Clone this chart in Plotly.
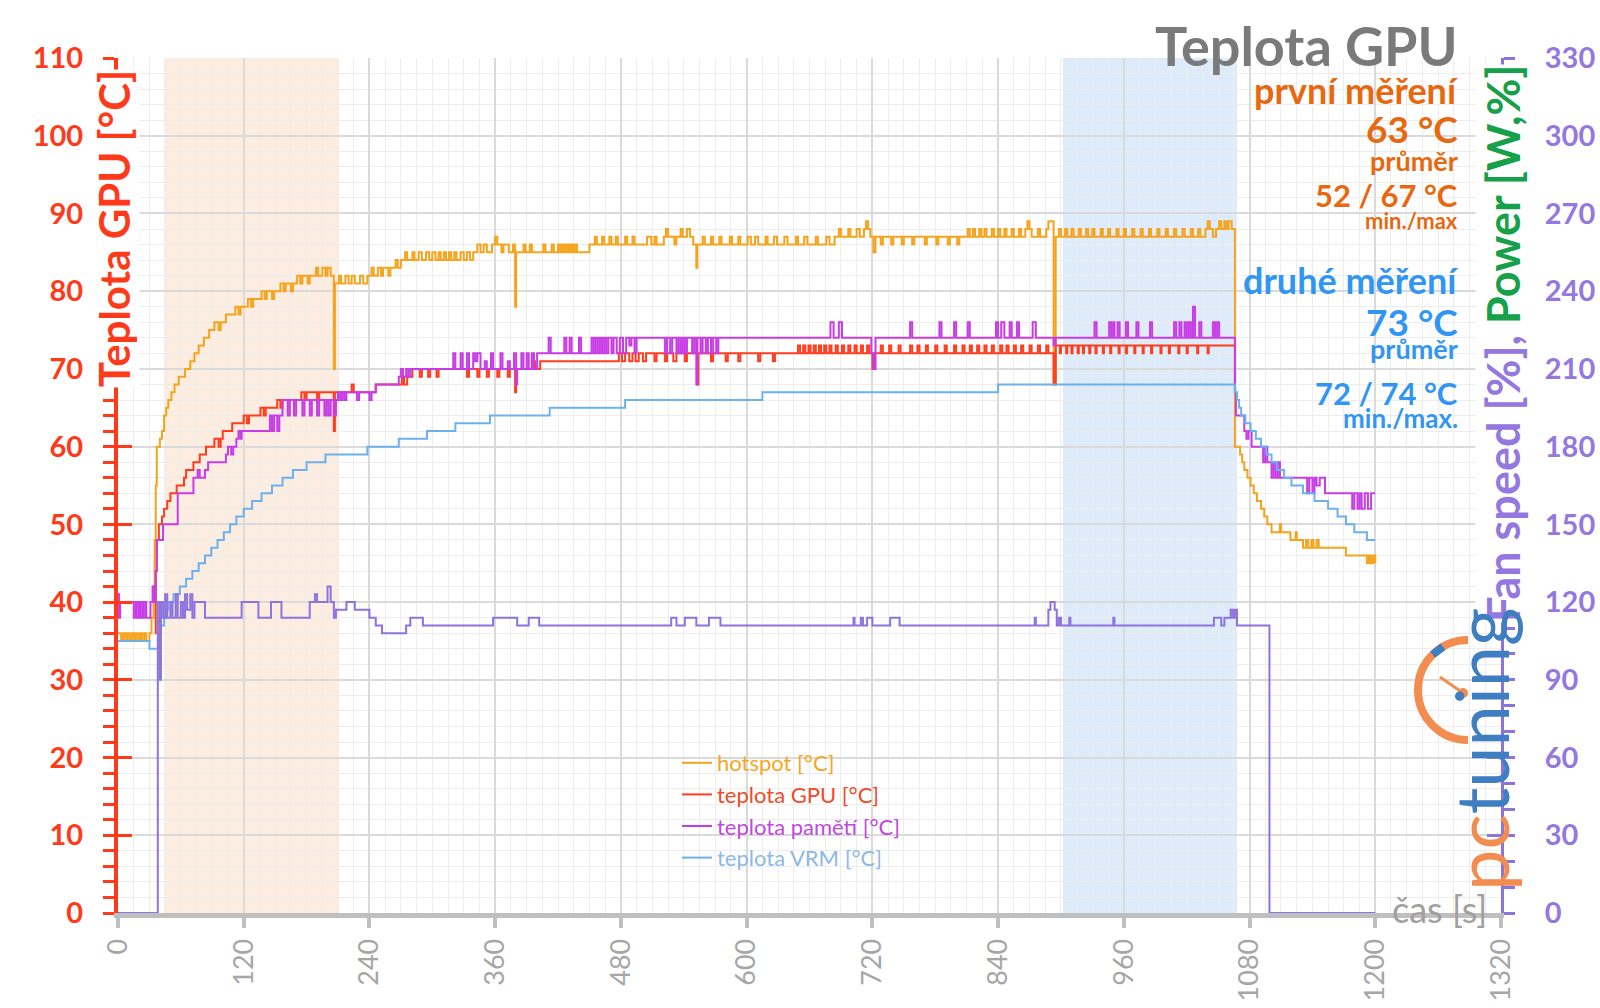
import plotly.graph_objects as go

# ---------------- data (time [s], value) change points, step-wise ----------------
hotspot_pts = [(0,36),(3,35),(5,36),(7,35),(9,36),(11,35),(13,36),(15,35),(17,36),(19,35),(21,36),(23,35),(25,36),(27,35),(30,36),(32,38),(34,42),(35,48),(36,55),(37,60),(40,61),(42,62),(44,64),(46,65),(48,66),(51,67),(54,68),(58,69),(64,70),(69,71),(73,72),(77,73),(82,74),(87,75),(92,76),(96,75),(98,76),(103,77),(112,78),(115,77),(117,78),(124,79),(127,78),(129,79),(137,80),(140,79),(142,80),(147,79),(149,80),(155,81),(158,80),(160,81),(165,80),(167,81),(171,82),(174,81),(176,82),(181,81),(183,82),(189,83),(191,82),(195,83),(198,82),(200,83),(203,82),(206,70),(207,81),(211,82),(213,81),(217,82),(220,81),(223,82),(226,81),(231,82),(234,81),(238,82),(242,83),(244,82),(248,83),(251,82),(253,83),(258,82),(260,83),(265,84),(267,83),(270,84),(274,85),(276,84),(281,85),(283,84),(287,85),(290,84),(294,85),(297,84),(300,85),(303,84),(306,85),(308,84),(311,85),(313,84),(316,85),(318,84),(321,85),(323,84),(327,85),(330,84),(333,85),(336,84),(339,85),(343,86),(346,85),(349,86),(352,85),(357,86),(360,87),(362,86),(366,85),(368,86),(373,85),(377,86),(379,78),(380,85),(387,86),(389,85),(393,86),(395,85),(406,86),(408,85),(414,86),(416,85),(420,86),(422,85),(424,86),(426,85),(428,86),(430,85),(432,86),(434,85),(436,86),(438,85),(450,86),(455,87),(457,86),(462,87),(464,86),(469,87),(471,86),(475,87),(477,86),(484,87),(486,86),(491,87),(493,86),(505,87),(509,86),(512,87),(514,86),(521,87),(523,88),(525,87),(531,86),(533,87),(537,88),(539,87),(543,88),(546,87),(549,86),(552,83),(553,86),(558,87),(560,86),(566,87),(568,86),(574,87),(576,86),(584,87),(586,86),(592,87),(594,86),(601,87),(604,86),(608,87),(611,86),(618,87),(620,86),(626,87),(629,86),(636,87),(639,86),(647,87),(649,86),(655,87),(658,86),(666,87),(668,86),(676,87),(679,86),(684,87),(688,88),(690,87),(697,88),(699,87),(705,88),(708,87),(712,88),(714,89),(716,88),(718,87),(721,85),(723,87),(728,86),(730,87),(738,86),(740,87),(748,86),(750,87),(758,86),(760,87),(770,86),(772,87),(781,86),(783,87),(792,86),(794,87),(801,86),(803,87),(811,88),(813,87),(816,88),(818,87),(822,88),(824,87),(827,88),(829,87),(834,88),(836,87),(840,88),(842,87),(846,88),(848,87),(853,88),(855,87),(860,88),(862,87),(866,88),(868,89),(870,88),(872,87),(878,88),(880,87),(886,88),(888,89),(893,68),(895,87),(898,88),(900,87),(904,88),(906,87),(910,88),(912,87),(917,88),(919,87),(924,88),(926,87),(930,88),(932,87),(938,88),(940,87),(945,88),(947,87),(953,88),(955,87),(960,88),(962,87),(968,88),(970,87),(976,88),(978,87),(984,88),(986,87),(992,88),(994,87),(1000,88),(1002,87),(1008,88),(1010,87),(1016,88),(1018,87),(1024,88),(1026,87),(1031,88),(1033,87),(1038,88),(1040,89),(1042,88),(1045,87),(1048,88),(1051,89),(1053,88),(1056,89),(1058,88),(1060,89),(1063,88),(1066,60),(1071,59),(1073,58),(1075,57),(1078,56),(1081,55),(1084,54),(1087,53),(1091,52),(1094,51),(1097,50),(1101,49),(1109,50),(1110,49),(1119,48),(1124,49),(1125,48),(1131,47),(1134,48),(1136,47),(1139,48),(1141,47),(1144,48),(1146,47),(1172,46),(1192,45),(1194,46),(1196,45),(1198,46),(1200,45)]

gpu_pts = [(35,36),(36,44),(37,48),(39,50),(42,51),(44,52),(47,53),(50,54),(56,55),(63,56),(65,57),(72,58),(78,59),(84,60),(92,61),(96,60),(98,61),(100,62),(109,63),(120,64),(123,63),(125,64),(136,65),(139,64),(141,65),(152,66),(155,65),(157,66),(175,67),(178,66),(180,67),(190,66),(192,67),(206,62),(207,67),(223,68),(225,67),(246,68),(271,69),(273,68),(276,69),(281,70),(288,69),(290,70),(296,69),(298,70),(304,69),(306,70),(333,69),(335,70),(343,69),(345,70),(352,69),(354,70),(362,69),(364,70),(372,69),(374,70),(379,67),(380,70),(395,71),(398,70),(403,71),(478,72),(481,71),(484,72),(488,71),(491,72),(494,71),(497,72),(501,71),(504,72),(512,71),(514,72),(522,71),(524,72),(530,71),(533,72),(541,71),(543,72),(553,68),(554,72),(566,71),(568,72),(580,71),(582,72),(592,71),(594,72),(611,71),(613,72),(625,71),(627,72),(649,73),(651,72),(654,73),(656,72),(659,73),(661,72),(664,73),(666,72),(669,73),(671,72),(674,73),(676,72),(679,73),(681,72),(685,73),(687,72),(691,73),(693,72),(697,73),(699,72),(703,73),(705,72),(709,73),(711,72),(715,73),(717,72),(720,70),(722,72),(728,73),(730,72),(736,73),(738,72),(745,73),(747,72),(756,73),(758,72),(763,73),(765,72),(771,73),(773,72),(780,73),(782,72),(789,73),(791,72),(798,73),(800,72),(806,73),(808,72),(813,73),(815,72),(820,73),(822,72),(827,73),(829,72),(834,73),(836,72),(842,73),(844,72),(848,73),(850,72),(855,73),(857,72),(862,73),(864,72),(870,73),(872,72),(878,73),(880,72),(886,73),(888,72),(893,68),(895,73),(899,72),(900,73),(905,72),(906,73),(910,72),(911,73),(916,72),(917,73),(921,72),(922,73),(927,72),(928,73),(933,72),(934,73),(940,72),(941,73),(947,72),(948,73),(955,72),(956,73),(962,72),(963,73),(970,72),(971,73),(978,72),(979,73),(986,72),(987,73),(995,72),(996,73),(1003,72),(1004,73),(1012,72),(1013,73),(1020,72),(1021,73),(1030,72),(1031,73),(1040,72),(1041,73),(1066,73)]

mem_pts = [(0,41),(1,38),(2,40),(15,38),(17,40),(18,38),(20,40),(21,38),(23,40),(24,38),(26,40),(27,38),(31,40),(33,42),(35,40),(36,44),(37,48),(43,50),(57,54),(72,56),(76,57),(78,56),(83,57),(86,58),(103,59),(105,60),(108,59),(110,60),(113,61),(115,62),(117,61),(118,62),(145,64),(147,62),(149,64),(152,62),(154,64),(157,66),(162,64),(164,66),(168,64),(170,66),(176,64),(178,66),(183,64),(185,66),(190,64),(192,66),(197,64),(199,66),(201,64),(203,66),(206,64),(208,66),(210,67),(212,66),(214,67),(216,66),(218,67),(228,66),(230,67),(240,66),(242,67),(246,68),(268,69),(270,70),(272,69),(275,70),(277,69),(279,70),(320,72),(322,70),(327,72),(329,70),(333,72),(335,70),(339,72),(341,71),(343,72),(346,70),(350,71),(352,70),(356,72),(358,70),(365,72),(367,70),(372,71),(374,70),(378,72),(380,68),(381,70),(385,72),(387,70),(390,72),(392,70),(395,72),(397,70),(400,72),(411,74),(413,72),(426,74),(428,72),(431,74),(433,72),(440,74),(442,72),(452,74),(454,72),(456,74),(458,72),(460,74),(462,72),(464,74),(466,72),(468,74),(471,72),(473,74),(476,72),(479,74),(482,72),(485,74),(488,73),(490,74),(493,72),(495,74),(522,72),(524,74),(527,72),(529,74),(533,72),(535,74),(537,72),(539,74),(541,72),(543,74),(548,72),(550,74),(552,68),(553,74),(556,72),(558,74),(561,72),(563,74),(566,72),(568,74),(571,72),(573,74),(680,76),(683,74),(688,76),(691,74),(719,72),(721,70),(723,74),(756,76),(758,74),(784,76),(786,74),(798,76),(800,74),(811,76),(813,74),(838,76),(840,74),(843,76),(846,74),(851,76),(853,74),(858,76),(860,74),(873,76),(876,74),(893,73),(895,74),(932,76),(934,74),(946,76),(948,74),(950,76),(951,74),(954,76),(956,74),(962,76),(964,74),(972,76),(974,74),(985,76),(987,74),(1008,76),(1010,74),(1013,76),(1015,74),(1018,76),(1020,74),(1022,76),(1024,74),(1026,78),(1028,74),(1032,76),(1034,74),(1045,76),(1047,74),(1049,76),(1051,74),(1066,67),(1067,64),(1075,62),(1077,61),(1079,62),(1082,60),(1093,58),(1095,60),(1097,58),(1101,56),(1103,58),(1105,56),(1107,58),(1109,56),(1135,54),(1137,56),(1140,54),(1142,56),(1144,55),(1147,56),(1152,54),(1178,52),(1180,54),(1183,52),(1185,54),(1187,52),(1190,54),(1193,52),(1196,54),(1200,54)]

vrm_pts = [(0,35),(30,34),(39,36),(41,37),(44,38),(46,39),(48,40),(53,41),(59,42),(65,43),(71,44),(77,45),(83,46),(89,47),(95,48),(101,49),(107,50),(113,51),(120,52),(128,53),(137,54),(147,55),(157,56),(167,57),(180,58),(198,59),(238,60),(268,61),(295,62),(322,63),(355,64),(412,65),(484,66),(615,67),(840,68),(1066,67),(1068,66),(1070,65),(1072,64),(1076,63),(1081,62),(1086,61),(1091,60),(1096,59),(1101,58),(1106,57),(1113,56),(1120,55),(1131,54),(1142,53),(1155,52),(1164,51),(1172,50),(1180,49),(1192,48),(1200,48)]

fan_pts = [(0,0),(38,120),(40,90),(41,120),(43,114),(45,123),(47,114),(50,120),(52,114),(55,123),(57,114),(60,120),(62,114),(64,123),(66,117),(69,123),(71,114),(73,120),(83,114),(118,120),(134,114),(146,120),(156,114),(183,120),(188,123),(190,120),(200,126),(203,120),(206,114),(208,117),(218,120),(226,117),(240,114),(246,111),(252,108),(275,111),(279,114),(291,111),(358,114),(381,111),(392,114),(402,111),(528,114),(533,111),(541,114),(552,111),(564,114),(575,111),(702,114),(703,111),(709,114),(711,111),(715,114),(720,111),(737,114),(746,111),(875,114),(876,111),(888,117),(890,120),(894,117),(896,111),(898,114),(900,111),(908,114),(909,111),(950,114),(951,111),(1046,114),(1053,111),(1056,114),(1062,117),(1064,114),(1066,117),(1068,111),(1099,0),(1200,0)]

first_window = (44, 210)
second_window = (902, 1068)

x_ticks = list(range(0, 1321, 120))

# ---------------- styling ----------------
C_HOT = '#F6A31C'
C_GPU = '#FF3C1E'
C_MEM = '#C83CE6'
C_VRM = '#6CB0EC'
C_FAN = '#8C73DE'
C_RED_AX = '#FF3A1A'
C_PURP = '#9478E0'
C_GREEN = '#16A04A'
C_OR_TXT = '#E8680F'
C_BL_TXT = '#3196F3'
FONT = 'Lato'

L, R, T, B = 118, 99, 58, 95
W, H = 1600, 1008
PW, PH = W - L - R, H - T - B
def PX(x): return (x - L) / PW
def PY(y): return (H - B - y) / PH

def unzip(pts):
    return [p[0] for p in pts], [p[1] for p in pts]

fig = go.Figure()
series = [
    (hotspot_pts, C_HOT, 'hotspot [°C]', '#F5A623'),
    (gpu_pts, C_GPU, 'teplota GPU [°C]', '#F04A2A'),
    (mem_pts, C_MEM, 'teplota pamětí [°C]', '#C048E0'),
    (vrm_pts, C_VRM, 'teplota VRM [°C]', '#8DB8E8'),
]
for pts, col, nm, tcol in series:
    xs, ys = unzip(pts)
    fig.add_trace(go.Scatter(x=xs, y=ys, mode='lines', line=dict(color=col, width=2, shape='hv'),
                             name=f'<span style="color:{tcol}">{nm}</span>', yaxis='y'))
fx, fy = unzip(fan_pts)
fig.add_trace(go.Scatter(x=fx, y=fy, mode='lines', line=dict(color=C_FAN, width=2, shape='hv'),
                         name='Fan speed [%]', showlegend=False, yaxis='y2'))

shapes = [
    dict(type='rect', xref='x', yref='y', x0=first_window[0], x1=first_window[1], y0=0, y1=110,
         fillcolor='#FDEDE0', line=dict(width=0), layer='below'),
    dict(type='rect', xref='x', yref='y', x0=second_window[0], x1=second_window[1], y0=0, y1=110,
         fillcolor='#DDEBFA', line=dict(width=0), layer='below'),
]
# logo gauge (decoration), pixel-sized around an anchor
gx = (1468 - L) / PW * 1320
gy = (H - B - 690) / PH * 110
shapes += [
    dict(type='path', xref='x', yref='y', xsizemode='pixel', ysizemode='pixel', xanchor=gx, yanchor=gy,
         path='M 0,50 C -27.6,50 -50,27.6 -50,0 C -50,-27.6 -27.6,-50 0,-50',
         line=dict(color='#F28C4F', width=8), layer='above'),
    dict(type='path', xref='x', yref='y', xsizemode='pixel', ysizemode='pixel', xanchor=gx, yanchor=gy,
         path='M -25,43.3 L -35.4,35.4', line=dict(color='#3E7EC1', width=8), layer='above'),
    dict(type='path', xref='x', yref='y', xsizemode='pixel', ysizemode='pixel', xanchor=gx, yanchor=gy,
         path='M -5,-3 L -28,13', line=dict(color='#F28C4F', width=3), layer='above'),
    dict(type='circle', xref='x', yref='y', xsizemode='pixel', ysizemode='pixel', xanchor=gx, yanchor=gy,
         x0=-10, x1=0, y0=-8, y1=2, fillcolor='#F28C4F', line=dict(width=0), layer='above'),
]

ann = []
def txt(text, x, y, size, color, weight='bold', xanchor='right', angle=0, family=FONT, bg=None):
    d = dict(text=text, xref='paper', yref='paper', x=PX(x), y=PY(y), xanchor=xanchor,
             yanchor='middle', showarrow=False, textangle=angle,
             font=dict(family=family, size=size, color=color, weight=weight))
    if bg:
        d['bgcolor'] = bg
        d['borderpad'] = 0
    ann.append(d)

txt('Teplota GPU', 1460, 45, 54, '#7A7A7A')
txt('první měření', 1460, 90, 36, C_OR_TXT)
txt('63 °C', 1460, 128, 37, C_OR_TXT)
txt('průměr', 1460, 160, 27, C_OR_TXT)
txt('52 / 67 °C', 1460, 195, 31, C_OR_TXT)
txt('min./max', 1460, 220, 22, C_OR_TXT)
txt('druhé měření', 1460, 280, 36, C_BL_TXT)
txt('73 °C', 1460, 321, 37, C_BL_TXT)
txt('průměr', 1460, 348, 27, C_BL_TXT)
txt('72 / 74 °C', 1460, 393, 31, C_BL_TXT)
txt('min./max.', 1460, 418, 26, C_BL_TXT)
# axis titles
txt('Teplota GPU [°C]', 114, 229, 42, C_RED_AX, xanchor='center', angle=-90, bg='white')
txt(f'<span style="color:{C_PURP}">Fan speed [%], </span><span style="color:{C_GREEN}">Power [W,%]</span>',
    1503, 344, 45, C_PURP, xanchor='center', angle=-90, bg='white')
txt('čas [s]', 1439, 909, 36, '#A0A0A0', weight='normal', xanchor='center')
# logo text
txt('<span style="color:#F28C4F">pc</span><span style="color:#3E7EC1">tuning</span>',
    1480, 750, 74, '#3E7EC1', weight='normal', xanchor='center', angle=-90)

fig.update_layout(
    width=W, height=H, template='none',
    margin=dict(l=L, r=R, t=T, b=B, pad=0),
    paper_bgcolor='white', plot_bgcolor='white',
    font=dict(family=FONT),
    showlegend=True,
    legend=dict(x=PX(677), y=PY(742), xanchor='left', yanchor='top', bgcolor='rgba(0,0,0,0)',
                font=dict(family=FONT, size=22), itemwidth=30, tracegroupgap=0),
    shapes=shapes, annotations=ann,
    xaxis=dict(range=[0, 1320], tickvals=x_ticks, ticktext=[str(v) for v in x_ticks], tickangle=-90,
               tickfont=dict(family=FONT, size=27, color='#A6A6A6'),
               showgrid=True, gridcolor='#DADADA', gridwidth=2,
               minor=dict(dtick=15, tick0=0, showgrid=True, gridcolor='#EDEDED', gridwidth=1),
               showline=True, linecolor='#BFBFBF', linewidth=5, ticks='outside', ticklen=10,
               tickwidth=4, tickcolor='#BFBFBF', zeroline=False, layer='below traces', automargin=False),
    yaxis=dict(range=[0, 110], dtick=10, tick0=0, tickfont=dict(family=FONT, size=29, color=C_RED_AX, weight='bold'),
               showgrid=True, gridcolor='#DADADA', gridwidth=2,
               minor=dict(dtick=2, tick0=0, showgrid=True, gridcolor='#EDEDED', gridwidth=1,
                          ticks='outside', ticklen=11, tickwidth=3, tickcolor=C_RED_AX),
               showline=True, linecolor=C_RED_AX, linewidth=4, ticks='outside', ticklen=11, tickwidth=3,
               tickcolor=C_RED_AX, zeroline=False, ticklabelstandoff=14, automargin=False),
    yaxis3=dict(range=[0, 110], dtick=10, tick0=0, overlaying='y', side='left', anchor='x',
                showticklabels=False, showgrid=False, showline=False, zeroline=False,
                ticks='inside', ticklen=14, tickwidth=3, tickcolor=C_RED_AX, automargin=False),
    yaxis2=dict(range=[0, 330], dtick=30, tick0=0, overlaying='y', side='right', anchor='x',
                tickfont=dict(family=FONT, size=29, color=C_PURP, weight='bold'),
                showgrid=False, zeroline=False, showline=True, linecolor=C_FAN, linewidth=3,
                ticks='outside', ticklen=11, tickwidth=3, tickcolor=C_FAN,
                minor=dict(dtick=10, tick0=0, ticks='outside', ticklen=11, tickwidth=3, tickcolor=C_FAN, showgrid=False),
                ticklabelstandoff=24, automargin=False),
    yaxis4=dict(range=[0, 330], dtick=30, tick0=0, overlaying='y', side='right', anchor='x',
                showticklabels=False, showgrid=False, showline=False, zeroline=False,
                ticks='inside', ticklen=14, tickwidth=3, tickcolor=C_FAN, automargin=False),
)
# invisible helper traces so the overlay tick axes render
fig.add_trace(go.Scatter(x=[0], y=[0], yaxis='y3', mode='lines', showlegend=False, hoverinfo='skip', line=dict(width=0)))
fig.add_trace(go.Scatter(x=[0], y=[0], yaxis='y4', mode='lines', showlegend=False, hoverinfo='skip', line=dict(width=0)))

fig.write_html("out.html", config={'displayModeBar': False},
               post_script="document.body.style.margin='0';")
